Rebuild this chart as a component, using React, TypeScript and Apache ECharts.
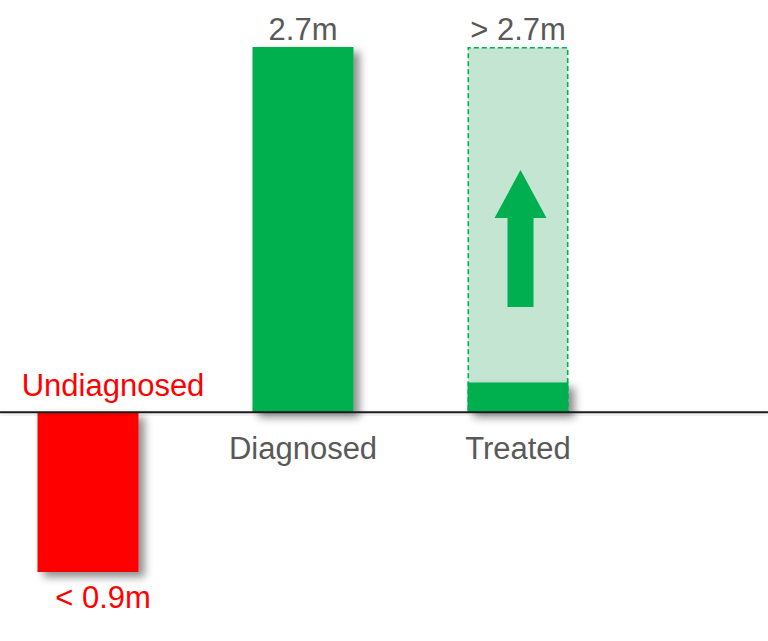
import { useEffect, useRef } from 'react';
import * as echarts from 'echarts';

// Patient counts, in millions
const categories = ['Undiagnosed', 'Diagnosed', 'Treated'];
const solidValues = ['-', 2.7, 0.22];
const potentialValues = ['-', '-', 2.7];
const undiagnosedValues = [-0.9, '-', '-'];
const valueLabels = ['< 0.9m', '2.7m', '> 2.7m'];

const GREEN = '#00B050';
const LIGHT_GREEN = '#C4E5D2';
const RED = '#FF0000';
const GRAY = '#595959';
const FONT = "'Liberation Sans', Arial, Helvetica, sans-serif";

const WIDTH = 768;
const HEIGHT = 641;
const GRID = { left: 88, right: 250, top: 47, bottom: 69 };
const Y_MIN = -1.18;
const Y_MAX = 2.7;
// zero line of the value axis, in pixels
const BASE_Y = GRID.top + (Y_MAX / (Y_MAX - Y_MIN)) * (HEIGHT - GRID.top - GRID.bottom);

const barShadow = {
  shadowColor: 'rgba(0,0,0,0.45)',
  shadowBlur: 9,
  shadowOffsetX: 6,
  shadowOffsetY: 5,
};

const textBase = { fontSize: 31, fontFamily: FONT };

export default function App() {
  const ref = useRef<HTMLDivElement>(null);

  useEffect(() => {
    if (!ref.current) return;
    const chart = echarts.init(ref.current, undefined, { renderer: 'svg' });

    // arrow sits in the "Treated" column (last category, right edge of the grid)
    const cx = WIDTH - GRID.right + 2.5;
    const tipY = 170;
    const headY = 218;
    const tailY = 307;

    chart.setOption({
      animation: false,
      backgroundColor: '#ffffff',
      textStyle: { fontFamily: FONT },
      grid: { ...GRID, containLabel: false },
      xAxis: {
        type: 'category',
        data: categories,
        boundaryGap: false,
        axisLine: { show: false },
        axisTick: { show: false },
        axisLabel: { show: false },
        splitLine: { show: false },
      },
      yAxis: [
        { type: 'value', min: Y_MIN, max: Y_MAX, show: false, splitLine: { show: false } },
        {
          type: 'value',
          min: -0.9,
          max: (0.9 * Y_MAX) / -Y_MIN,
          show: false,
          splitLine: { show: false },
        },
      ],
      series: [
        {
          name: 'Potential treated',
          type: 'bar',
          clip: false,
          barWidth: 101,
          barGap: '-100%',
          data: potentialValues,
          itemStyle: {
            color: LIGHT_GREEN,
            borderColor: GREEN,
            borderWidth: 1.6,
            borderType: [5, 3],
          },
          label: {
            show: true,
            position: 'top',
            distance: 2,
            formatter: valueLabels[2],
            color: GRAY,
            ...textBase,
          },
        },
        {
          name: 'Diagnosed',
          type: 'bar',
          clip: false,
          barWidth: 101,
          barGap: '-100%',
          data: solidValues,
          itemStyle: { color: GREEN, ...barShadow },
          label: {
            show: true,
            position: 'bottom',
            distance: 21,
            formatter: (p: any) => categories[p.dataIndex],
            color: GRAY,
            ...textBase,
          },
          markPoint: {
            symbol: 'circle',
            symbolSize: 0,
            itemStyle: { color: 'transparent' },
            label: {
              show: true,
              position: 'top',
              distance: 2,
              formatter: valueLabels[1],
              color: GRAY,
              ...textBase,
            },
            data: [{ coord: [1, solidValues[1]] }],
          },
        },
        {
          name: 'Undiagnosed',
          type: 'bar',
          clip: false,
          yAxisIndex: 1,
          barWidth: 101,
          barGap: '-100%',
          data: undiagnosedValues,
          itemStyle: { color: RED, ...barShadow },
          label: {
            show: true,
            position: 'top',
            distance: 11,
            offset: [25, 0],
            formatter: categories[0],
            color: RED,
            ...textBase,
          },
          markPoint: {
            symbol: 'circle',
            symbolSize: 0,
            itemStyle: { color: 'transparent' },
            label: {
              show: true,
              position: 'bottom',
              distance: 10,
              offset: [15, 0],
              formatter: valueLabels[0],
              color: RED,
              ...textBase,
            },
            data: [{ coord: [0, undiagnosedValues[0]] }],
          },
        },
      ],
      graphic: [
        {
          type: 'rect',
          z: 100,
          shape: { x: 0, y: BASE_Y - 1, width: WIDTH, height: 2 },
          style: {
            fill: '#1c1c1c',
            shadowColor: 'rgba(0,0,0,0.35)',
            shadowBlur: 8,
            shadowOffsetY: 5,
          },
        },
        {
          type: 'polygon',
          z: 50,
          shape: {
            points: [
              [cx, tipY],
              [cx + 26, headY],
              [cx + 13, headY],
              [cx + 13, tailY],
              [cx - 13, tailY],
              [cx - 13, headY],
              [cx - 26, headY],
            ],
          },
          style: { fill: GREEN },
        },
      ],
    });

    return () => chart.dispose();
  }, []);

  return (
    <div
      ref={ref}
      style={{ position: 'fixed', left: 0, top: 0, width: WIDTH, height: HEIGHT, background: '#fff' }}
    />
  );
}
